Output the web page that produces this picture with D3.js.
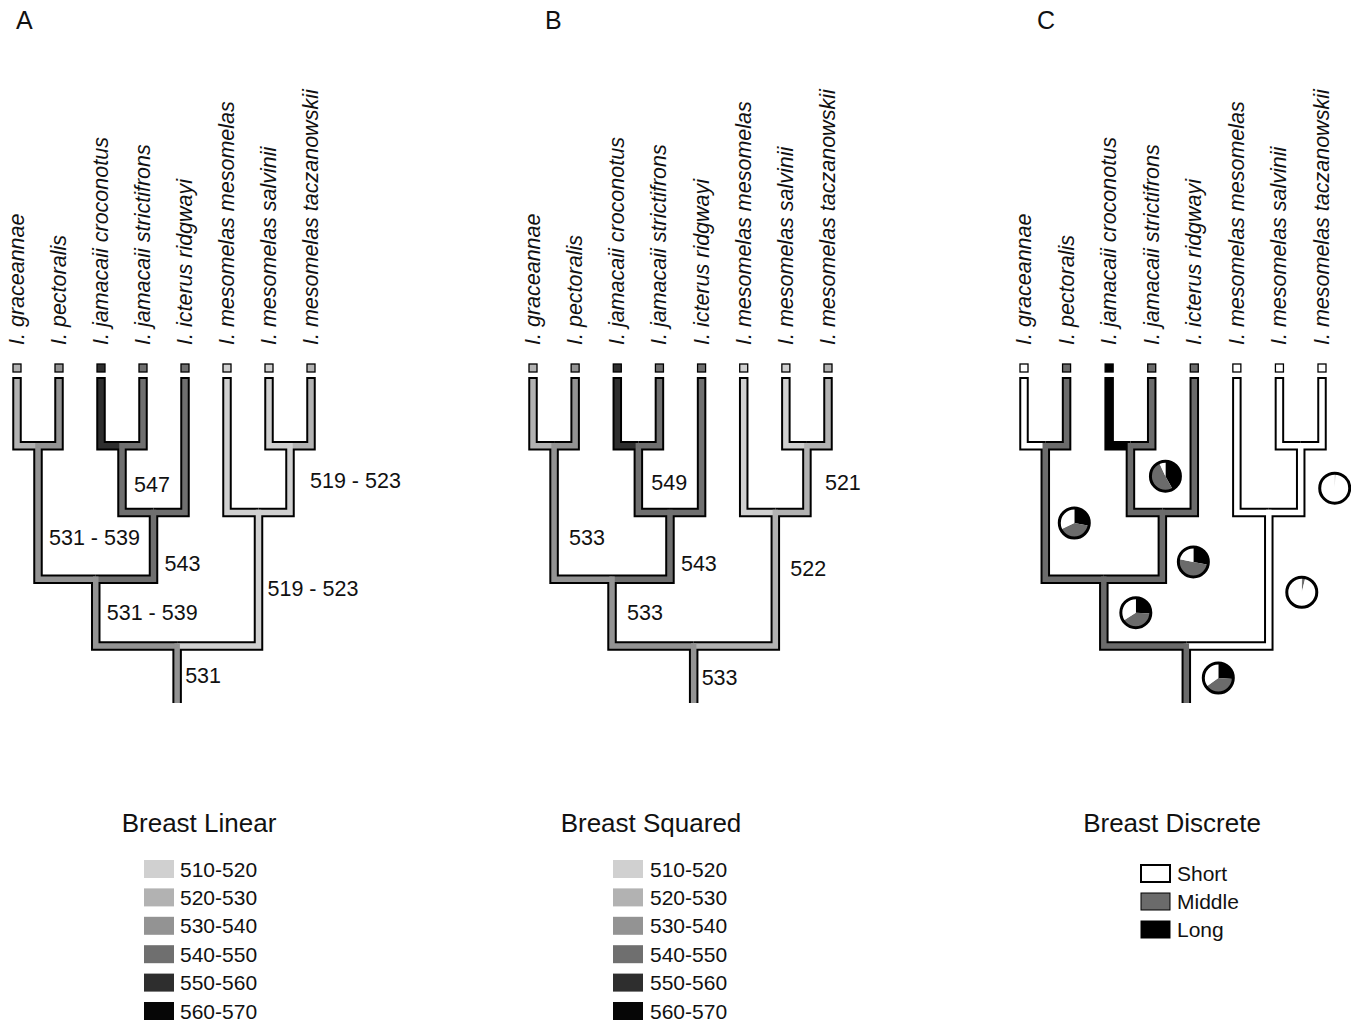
<!DOCTYPE html>
<html>
<head>
<meta charset="utf-8">
<script src="https://cdn.jsdelivr.net/npm/d3@7"></script>
<style>
  body { margin: 0; background: #fff; }
  svg { display: block; font-family: "Liberation Sans", Arial, Helvetica, sans-serif; }
</style>
</head>
<body>
<svg id="chart" width="1351" height="1022"></svg>
<script>
// ---- Data -----------------------------------------------------------------
// Taxa in tip order (left to right)
const taxa = [
  "I. graceannae", "I. pectoralis", "I. jamacaii croconotus", "I. jamacaii strictifrons",
  "I. icterus ridgwayi", "I. mesomelas mesomelas", "I. mesomelas salvinii", "I. mesomelas taczanowskii"
];

// Internal nodes and their two children (taxa or other internal nodes)
const nodeIds = ["n1", "n2", "n3", "n4", "n5", "n6", "root"];
const nodeChildren = [
  ["I. graceannae", "I. pectoralis"],
  ["I. jamacaii croconotus", "I. jamacaii strictifrons"],
  ["n2", "I. icterus ridgwayi"],
  ["n1", "n3"],
  ["I. mesomelas salvinii", "I. mesomelas taczanowskii"],
  ["I. mesomelas mesomelas", "n5"],
  ["n4", "n6"]
];

// Observed breast values at the tips
const tipBreast = [527, 533, 553, 545, 544, 516, 517, 524];

// Linear parsimony reconstruction (lowest / highest value of each node)
const linearLow  = [531, 547, 543, 531, 519, 519, 531];
const linearHigh = [539, 547, 543, 539, 523, 523, 531];

// Squared-change parsimony reconstruction
const squaredValue = [533, 549, 543, 533, 521, 522, 533];

// Discrete character: tip states and node state probabilities
const stateNames = ["Short", "Middle", "Long"];
const tipState = ["Short", "Middle", "Long", "Middle", "Middle", "Short", "Short", "Short"];
const probShort  = [0.32, 0.07, 0.22, 0.34, 0.99, 0.962, 0.35];
const probMiddle = [0.40, 0.51, 0.50, 0.40, 0.008, 0.033, 0.39];
const probLong   = [0.28, 0.42, 0.28, 0.26, 0.002, 0.005, 0.26];

// Legend bins for the continuous character
const binLabels = ["510-520", "520-530", "530-540", "540-550", "550-560", "560-570"];
const binEdges = [520, 530, 540, 550, 560];

// ---- Styles / layout ------------------------------------------------------
const binColors = ["#d0d0d0", "#b2b2b2", "#939393", "#6f6f6f", "#2e2e2e", "#060606"];
const stateColors = { Short: "#ffffff", Middle: "#6b6b6b", Long: "#000000" };

const shade = d3.scaleThreshold().domain(binEdges).range(binColors);

const svg = d3.select("#chart");

const tipTop = 377;       // top of the tip branches
const rootBottom = 703;   // bottom of the root stem
const level = d3.scaleLinear().domain([0, 4]).range([379, 646]); // node height -> y
const outerW = 9.5, innerW = 5.5;

const panels = [
  { key: "A", x0: 17,   x1: 311,  letterX: 16 },
  { key: "B", x0: 533,  x1: 828,  letterX: 545 },
  { key: "C", x0: 1024, x1: 1322, letterX: 1037 }
];

// label / pie offsets from each node's stem: [dx, dy] in node order n1..root
const labelOffsetA = [[11, 24.5], [12, 5], [11, 17], [11, 0], [20, 1], [9, 9], [8, 0.5]];
const labelOffsetB = [[15, 24.5], [13, 3], [11, 17], [15, 0], [18, 3], [15, -11], [8, 2.5]];
const pieOffsetC   = [[29, 10.5], [35, -3], [31, 16], [32, 0], [34, 9], [33, 13], [32, 3.5]];

// ---- Tree -----------------------------------------------------------------
function buildTree() {
  const lookup = {};
  taxa.forEach((t, i) => { lookup[t] = { name: t, tip: i }; });
  nodeIds.forEach((id, i) => { lookup[id] = { name: id, node: i, children: [] }; });
  nodeIds.forEach((id, i) => {
    lookup[id].children = nodeChildren[i].map(c => lookup[c]);
  });
  return d3.hierarchy(lookup["root"]);
}

function drawPanel(p) {
  const root = buildTree();
  // tips evenly spaced, each ancestor centred over its children
  const tipX = d3.scalePoint().domain(taxa).range([p.x0, p.x1]);
  root.eachAfter(d => {
    if (d.children) {
      d.px = d3.mean(d.children, c => c.px);
      d.py = level(d.height);
    } else {
      d.px = tipX(d.data.name);
      d.py = tipTop;
    }
  });

  const g = svg.append("g");

  // color of the branch leading into node d
  function branchColor(d) {
    const t = d.data.tip, n = d.data.node;
    if (p.key === "A") return t !== undefined ? shade(tipBreast[t]) : shade(linearLow[n]);
    if (p.key === "B") return t !== undefined ? shade(tipBreast[t]) : shade(squaredValue[n]);
    if (t !== undefined) return stateColors[tipState[t]];
    const pr = [probShort[n], probMiddle[n], probLong[n]];
    return stateColors[stateNames[d3.maxIndex(pr)]];
  }

  const nonRoot = root.descendants().filter(d => d.parent);
  const branchPath = (d, top) =>
    `M${d.px},${top}V${d.parent.py}H${d.parent.px}`;

  // outline layer
  const outline = g.append("g").attr("fill", "none").attr("stroke", "#000")
    .attr("stroke-width", outerW).attr("stroke-linejoin", "miter");
  nonRoot.forEach(d => outline.append("path").attr("d", branchPath(d, d.py)));
  outline.append("path").attr("d", `M${root.px},${root.py}V${rootBottom}`);

  // fill layer, deeper branches first so each stem covers its junction
  const fill = g.append("g").attr("fill", "none")
    .attr("stroke-width", innerW).attr("stroke-linejoin", "miter");
  nonRoot.slice().sort((a, b) => b.depth - a.depth).forEach(d => {
    const top = d.children ? d.py - innerW / 2 : d.py + 2;
    fill.append("path").attr("d", branchPath(d, top)).attr("stroke", branchColor(d));
  });
  fill.append("path")
    .attr("d", `M${root.px},${root.py - innerW / 2}V${rootBottom}`)
    .attr("stroke", branchColor(root));

  // tip squares
  g.selectAll("rect.tip").data(root.leaves()).join("rect")
    .attr("class", "tip")
    .attr("x", d => d.px - 4).attr("y", 364)
    .attr("width", 8).attr("height", 8)
    .attr("fill", d => p.key === "C" ? stateColors[tipState[d.data.tip]] : shade(tipBreast[d.data.tip]))
    .attr("stroke", "#000").attr("stroke-width", 1.3);

  // taxon names
  g.selectAll("text.taxon").data(root.leaves()).join("text")
    .attr("class", "taxon")
    .attr("transform", d => `translate(${d.px + 7},345) rotate(-90)`)
    .attr("font-size", 21.5).attr("font-style", "italic").attr("fill", "#111")
    .text(d => taxa[d.data.tip]);

  // panel letter
  g.append("text").attr("x", p.letterX).attr("y", 29)
    .attr("font-size", 25).attr("fill", "#111").text(p.key);

  // node annotations
  const internal = root.descendants().filter(d => d.children);
  const stemMid = d => (d.py + (d.parent ? d.parent.py : rootBottom)) / 2;

  if (p.key === "A" || p.key === "B") {
    const offs = p.key === "A" ? labelOffsetA : labelOffsetB;
    g.selectAll("text.val").data(internal).join("text")
      .attr("class", "val")
      .attr("x", d => d.px + offs[d.data.node][0])
      .attr("y", d => stemMid(d) + offs[d.data.node][1])
      .attr("dy", "0.36em")
      .attr("font-size", 21.5).attr("fill", "#111")
      .text(d => {
        const n = d.data.node;
        if (p.key === "B") return String(squaredValue[n]);
        return linearLow[n] === linearHigh[n] ? String(linearLow[n]) : `${linearLow[n]} - ${linearHigh[n]}`;
      });
  } else {
    const pie = d3.pie().sort(null).value(s => s.p);
    const arc = d3.arc().innerRadius(0).outerRadius(15);
    internal.forEach(d => {
      const n = d.data.node;
      const cx = d.px + pieOffsetC[n][0], cy = stemMid(d) + pieOffsetC[n][1];
      const pg = g.append("g").attr("transform", `translate(${cx},${cy})`);
      const slices = [
        { s: "Long", p: probLong[n] },
        { s: "Middle", p: probMiddle[n] },
        { s: "Short", p: probShort[n] }
      ];
      pg.selectAll("path").data(pie(slices)).join("path")
        .attr("d", arc).attr("fill", a => stateColors[a.data.s]);
      pg.append("circle").attr("r", 15).attr("fill", "none")
        .attr("stroke", "#000").attr("stroke-width", 3);
    });
  }
}

panels.forEach(drawPanel);

// ---- Legends --------------------------------------------------------------
function binLegend(title, titleX, swatchX, labelX) {
  const g = svg.append("g");
  g.append("text").attr("x", titleX).attr("y", 832).attr("text-anchor", "middle")
    .attr("font-size", 26).attr("fill", "#111").text(title);
  const row = d3.scalePoint().domain(binLabels).range([869, 1011]);
  binLabels.forEach((lab, i) => {
    g.append("rect").attr("x", swatchX).attr("y", row(lab) - 9)
      .attr("width", 30).attr("height", 18).attr("fill", binColors[i]);
    g.append("text").attr("x", labelX).attr("y", row(lab)).attr("dy", "0.36em")
      .attr("font-size", 21).attr("fill", "#111").text(lab);
  });
}
binLegend("Breast Linear", 199, 144, 180);
binLegend("Breast Squared", 651, 613, 650);

(function stateLegend() {
  const g = svg.append("g");
  g.append("text").attr("x", 1172).attr("y", 832).attr("text-anchor", "middle")
    .attr("font-size", 26).attr("fill", "#111").text("Breast Discrete");
  const row = d3.scalePoint().domain(stateNames).range([873.5, 929.5]);
  stateNames.forEach(s => {
    const isShort = s === "Short";
    g.append("rect").attr("x", 1141).attr("y", row(s) - 8.5)
      .attr("width", 29).attr("height", 17)
      .attr("fill", stateColors[s]).attr("stroke", "#000")
      .attr("stroke-width", isShort ? 2 : 1);
    g.append("text").attr("x", 1177).attr("y", row(s)).attr("dy", "0.36em")
      .attr("font-size", 21).attr("fill", "#111").text(s);
  });
})();
</script>
</body>
</html>
